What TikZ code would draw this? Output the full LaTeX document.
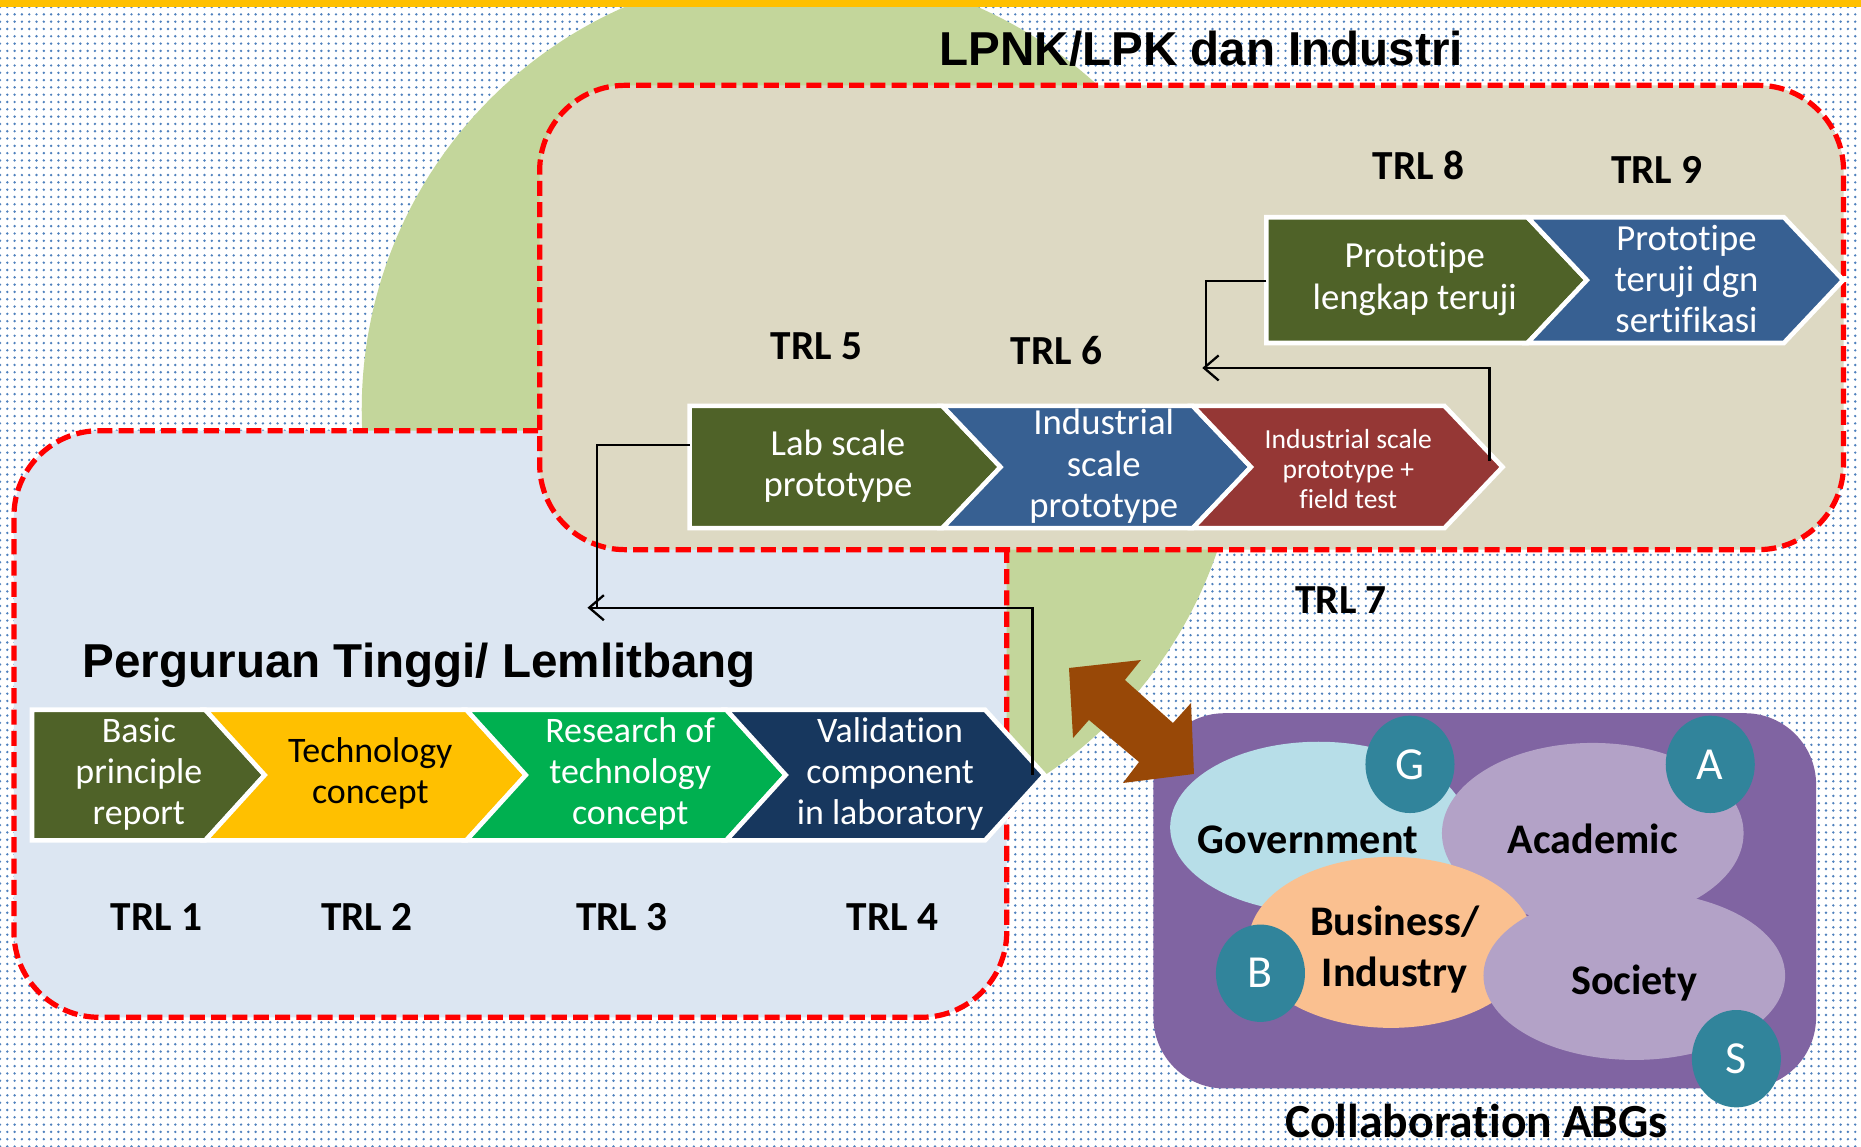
\documentclass[tikz,border=0pt]{standalone}
\usepackage{fontspec}
\setmainfont{Carlito}[Ligatures={NoCommon,NoContextual}]
\newfontfamily\arialfont{Liberation Sans}
\usetikzlibrary{shapes.geometric,arrows.meta,patterns.meta}
\definecolor{olivec}{HTML}{4F6228}
\definecolor{trlyellow}{HTML}{FFC000}
\definecolor{trlgreen}{HTML}{00B050}
\definecolor{navyc}{HTML}{17375E}
\definecolor{steelc}{HTML}{376092}
\definecolor{brickc}{HTML}{953735}
\definecolor{beigec}{HTML}{DDD9C3}
\definecolor{paleblue}{HTML}{DCE6F2}
\definecolor{circgreen}{HTML}{C3D69B}
\definecolor{purplebox}{HTML}{8064A2}
\definecolor{lavenderc}{HTML}{B3A2C7}
\definecolor{govblue}{HTML}{B7DEE8}
\definecolor{peachc}{HTML}{FAC090}
\definecolor{tealc}{HTML}{31849B}
\definecolor{brownarrow}{HTML}{984807}
\definecolor{dotblue}{HTML}{4F81BD}
\definecolor{redline}{HTML}{FF0000}
\begin{document}
\begin{tikzpicture}[x=0.01cm, y=-0.01cm,
  dashregion/.style={draw=redline, line width=1.25pt, dash pattern=on 3.6pt off 1.5pt, rounded corners=0.72cm, inner sep=0pt, rectangle},
  chevshape/.style={draw=white, line width=1.1pt, line join=miter},
  chevtext/.style={align=center, text=white, inner sep=0pt, font=\fontsize{8.6}{9.8}\selectfont},
  chevtextb/.style={align=center, text=white, inner sep=0pt, font=\fontsize{8.8}{9.9}\selectfont},
  trl/.style={inner sep=0pt, anchor=base, font=\bfseries\fontsize{9.9}{11}\selectfont},
  heading/.style={inner sep=0pt, anchor=base west, font=\arialfont\bfseries\fontsize{11.4}{13}\selectfont},
  conn/.style={draw=black, line width=0.55pt},
  barb/.style={-{Straight Barb[length=3.5pt,width=6pt]}},
  blob/.style={ellipse, inner sep=0pt},
  abgletter/.style={ellipse, fill=tealc, text=white, inner sep=0pt, minimum width=0.75cm, minimum height=0.82cm, font=\fontsize{11}{13}\selectfont},
  abg/.style={inner sep=0pt, anchor=base, font=\bfseries\fontsize{10.1}{12}\selectfont}
]
\useasboundingbox (0,0) rectangle (1568,966);
\begin{scope}
\clip (0,0) rectangle (1568,966);
% background
\fill[white] (0,0) rectangle (1568,966);
\fill[pattern={Dots[distance=1.75pt,radius=0.32pt]}, pattern color=dotblue] (0,0) rectangle (1568,966);
% green circle
\fill[circgreen] (675,345) circle[radius=3.7cm];
% regions
\node[dashregion, fill=paleblue, minimum width=8.36cm, minimum height=4.94cm] (ptbox) at (430,610) {};
\node[dashregion, fill=beigec, minimum width=10.98cm, minimum height=3.91cm] (lpnkbox) at (1004,267.5) {};
% top bar
\fill[trlyellow] (0,0) rectangle (1568,5.5);
% headings
\node[heading] (lpnk) at (791,55) {LPNK/LPK dan Industri};
\node[heading] (ptt) at (69,571) {Perguruan Tinggi/ Lemlitbang};
% bottom row chevrons
\path[fill=olivec, chevshape] (27,598) -- (173,598) -- (223,653) -- (173,708) -- (27,708) -- cycle;
\path[fill=trlyellow, chevshape] (173,598) -- (393,598) -- (443,653) -- (393,708) -- (173,708) -- (223,653) -- cycle;
\path[fill=trlgreen, chevshape] (393,598) -- (612,598) -- (662,653) -- (612,708) -- (393,708) -- (443,653) -- cycle;
\path[fill=navyc, chevshape] (612,598) -- (830,598) -- (880,653) -- (830,708) -- (612,708) -- (662,653) -- cycle;
% middle row chevrons
\path[fill=olivec, chevshape] (581,342) -- (794,342) -- (843,393.5) -- (794,445) -- (581,445) -- cycle;
\path[fill=steelc, chevshape] (794,342) -- (1005,342) -- (1054,393.5) -- (1005,445) -- (794,445) -- (843,393.5) -- cycle;
\path[fill=brickc, chevshape] (1005,342) -- (1217,342) -- (1266,393.5) -- (1217,445) -- (1005,445) -- (1054,393.5) -- cycle;
% top row chevrons
\path[fill=olivec, chevshape] (1067,183) -- (1287,183) -- (1337,236) -- (1287,289) -- (1067,289) -- cycle;
\path[fill=steelc, chevshape] (1287,183) -- (1503,183) -- (1553,236) -- (1503,289) -- (1287,289) -- (1337,236) -- cycle;
% chevron texts
\node[chevtext] (t1) at (117,652) {Basic\\principle\\report};
\node[chevtext, text=black] (t2) at (312,652) {Technology\\concept};
\node[chevtext] (t3) at (531,652) {Research of\\technology\\concept};
\node[chevtext] (t4) at (750,652) {Validation\\component\\in laboratory};
\node[chevtextb] (t5) at (706,393) {Lab scale\\prototype};
\node[chevtextb] (t6) at (930,393) {Industrial\\scale\\prototype};
\node[align=center, text=white, inner sep=0pt, font=\fontsize{6.6}{7.2}\selectfont] (t7) at (1136,395) {Industrial scale\\prototype +\\field test};
\node[chevtextb] (t8) at (1192,235) {Prototipe\\lengkap teruji};
\node[chevtextb] (t9) at (1421,235) {Prototipe\\teruji dgn\\sertifikasi};
% TRL labels
\node[trl] (trl1) at (132,784) {TRL 1};
\node[trl] (trl2) at (309,784) {TRL 2};
\node[trl] (trl3) at (524,784) {TRL 3};
\node[trl] (trl4) at (752,784) {TRL 4};
\node[trl] (trl5) at (688,303) {TRL 5};
\node[trl] (trl6) at (890,307) {TRL 6};
\node[trl] (trl7) at (1130,517) {TRL 7};
\node[trl] (trl8) at (1195,151) {TRL 8};
\node[trl] (trl9) at (1396,155) {TRL 9};
% connectors
\coordinate (c4p) at (870,653);
\coordinate (armA) at (495,512);
\coordinate (c5p) at (581,375);
\coordinate (armB) at (503,512);
\coordinate (c7p) at (1255,388);
\coordinate (armC) at (1013,310);
\coordinate (c8p) at (1067,237);
\coordinate (armD) at (1016,310);
\draw[conn, barb] (c4p) |- (armA);
\draw[conn] (c5p) -| (armB);
\draw[conn, barb] (c7p) |- (armC);
\draw[conn] (c8p) -| (armD);
% ABG collaboration
\node[fill=purplebox, rounded corners=0.6cm, minimum width=5.58cm, minimum height=3.16cm, inner sep=0pt] (abgbox) at (1251,759) {};
\node[blob, fill=govblue, minimum width=2.5cm, minimum height=1.44cm] (gov) at (1111,697) {};
\node[blob, fill=lavenderc, minimum width=2.54cm, minimum height=1.52cm] (acad) at (1342,702) {};
\node[blob, fill=peachc, minimum width=2.4cm, minimum height=1.44cm] (bus) at (1172,794) {};
\node[blob, fill=lavenderc, minimum width=2.54cm, minimum height=1.42cm] (soc) at (1377,822) {};
\node[abgletter] (gL) at (1188,644) {G};
\node[abgletter] (aL) at (1441,644) {A};
\node[abgletter] (bL) at (1062,820) {B};
\node[abgletter] (sL) at (1463,892) {S};
\node[abg] (govt) at (1102,719) {Government};
\node[abg] (acadt) at (1342,719) {Academic};
\node[abg] (bust1) at (1175,788) {Business/};
\node[abg] (bust2) at (1175,831) {Industry};
\node[abg] (soct) at (1377,838) {Society};
\node[abg, font=\bfseries\fontsize{11.4}{13}\selectfont] (collab) at (1244,958) {Collaboration ABGs};
% brown double arrow
\fill[brownarrow] (900.7,562.8) -- (961.3,556.1) -- (947.8,572.9) -- (988.3,609.2) -- (1003.5,592.3) -- (1006,652.1) -- (946.2,659.7) -- (959.7,642.0) -- (917.5,606.6) -- (904.1,621.8) -- cycle;
\end{scope}
\end{tikzpicture}
\end{document}
